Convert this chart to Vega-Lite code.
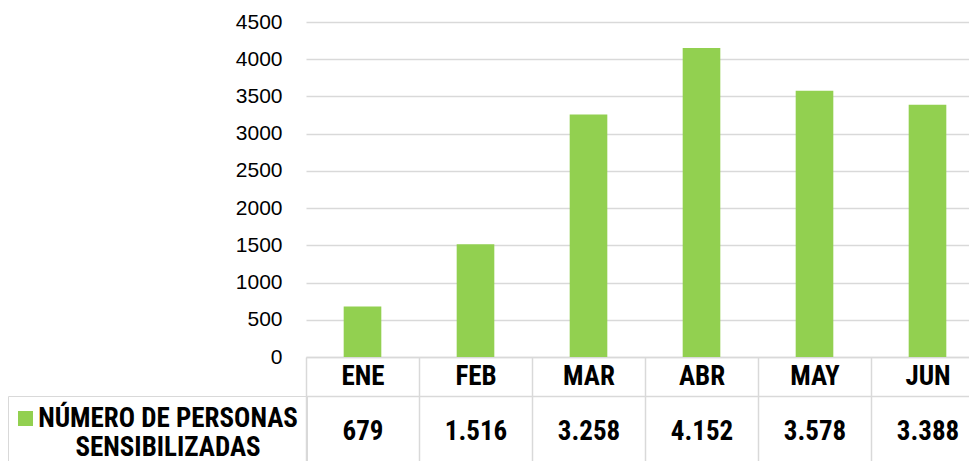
{
  "$schema": "https://vega.github.io/schema/vega-lite/v6.json",
  "width": 678,
  "height": 335,
  "autosize": {"type": "none"},
  "padding": {"left": 306, "top": 22, "right": -15, "bottom": 104},
  "background": "white",
  "data": {
    "values": [
      {"mes": "ENE", "valor": 679, "serie": "NÚMERO DE PERSONAS SENSIBILIZADAS"},
      {"mes": "FEB", "valor": 1516, "serie": "NÚMERO DE PERSONAS SENSIBILIZADAS"},
      {"mes": "MAR", "valor": 3258, "serie": "NÚMERO DE PERSONAS SENSIBILIZADAS"},
      {"mes": "ABR", "valor": 4152, "serie": "NÚMERO DE PERSONAS SENSIBILIZADAS"},
      {"mes": "MAY", "valor": 3578, "serie": "NÚMERO DE PERSONAS SENSIBILIZADAS"},
      {"mes": "JUN", "valor": 3388, "serie": "NÚMERO DE PERSONAS SENSIBILIZADAS"}
    ]
  },
  "config": {"view": {"stroke": null}, "font": "Liberation Sans"},
  "resolve": {"scale": {"x": "independent"}, "axis": {"x": "independent"}},
  "layer": [
    {
      "mark": {"type": "bar", "width": {"band": 0.333}},
      "encoding": {
        "x": {
          "field": "mes", "type": "nominal", "sort": null,
          "scale": {"paddingInner": 0, "paddingOuter": 0},
          "axis": {
            "title": null, "orient": "bottom",
            "domainColor": "#d9d9d9", "domainWidth": 1.5,
            "ticks": true, "tickBand": "extent", "tickSize": 104,
            "tickColor": "#d9d9d9", "tickWidth": 1.5,
            "labelAngle": 0, "labelBaseline": "middle", "labelPadding": -84.5,
            "labelFont": "Roboto Condensed", "labelFontSize": 27,
            "labelFontWeight": "bold", "labelColor": "black"
          }
        },
        "y": {
          "field": "valor", "type": "quantitative",
          "scale": {"domain": [0, 4500], "nice": false},
          "axis": {
            "title": null, "format": "d",
            "values": [0, 500, 1000, 1500, 2000, 2500, 3000, 3500, 4000, 4500],
            "domain": false, "ticks": false, "grid": true,
            "gridColor": "#d9d9d9", "gridWidth": 1.5,
            "labelFont": "Liberation Sans", "labelFontSize": 21,
            "labelColor": "black", "labelPadding": 24
          }
        },
        "color": {
          "field": "serie", "type": "nominal",
          "scale": {"range": ["#92d050"]},
          "legend": {
            "orient": "none", "legendX": -298, "legendY": 374,
            "title": null, "padding": 9, "strokeColor": "#d9d9d9",
            "symbolType": "square", "symbolSize": 225, "symbolStrokeWidth": 0, "symbolOpacity": 1,
            "symbolOffset": -5,
            "labelFont": "Roboto Condensed", "labelFontSize": 27,
            "labelFontWeight": "bold", "labelColor": "black", "labelLimit": 500,
            "labelExpr": "[slice(datum.label, 0, 18), slice(datum.label, 19)]",
            "labelAlign": "center", "labelOffset": 129
          }
        }
      }
    },
    {
      "mark": {"type": "point", "opacity": 0},
      "encoding": {
        "x": {
          "field": "valor", "type": "ordinal", "sort": null,
          "scale": {"paddingInner": 0, "paddingOuter": 0},
          "axis": {
            "title": null, "orient": "bottom", "offset": 39,
            "domainColor": "#d9d9d9", "domainWidth": 1.5, "ticks": false,
            "labelAngle": 0, "labelBaseline": "middle", "labelPadding": 35,
            "labelExpr": "replace(format(datum.value, ','), ',', '.')",
            "labelFont": "Roboto Condensed", "labelFontSize": 27,
            "labelFontWeight": "bold", "labelColor": "black"
          }
        }
      }
    }
  ]
}
